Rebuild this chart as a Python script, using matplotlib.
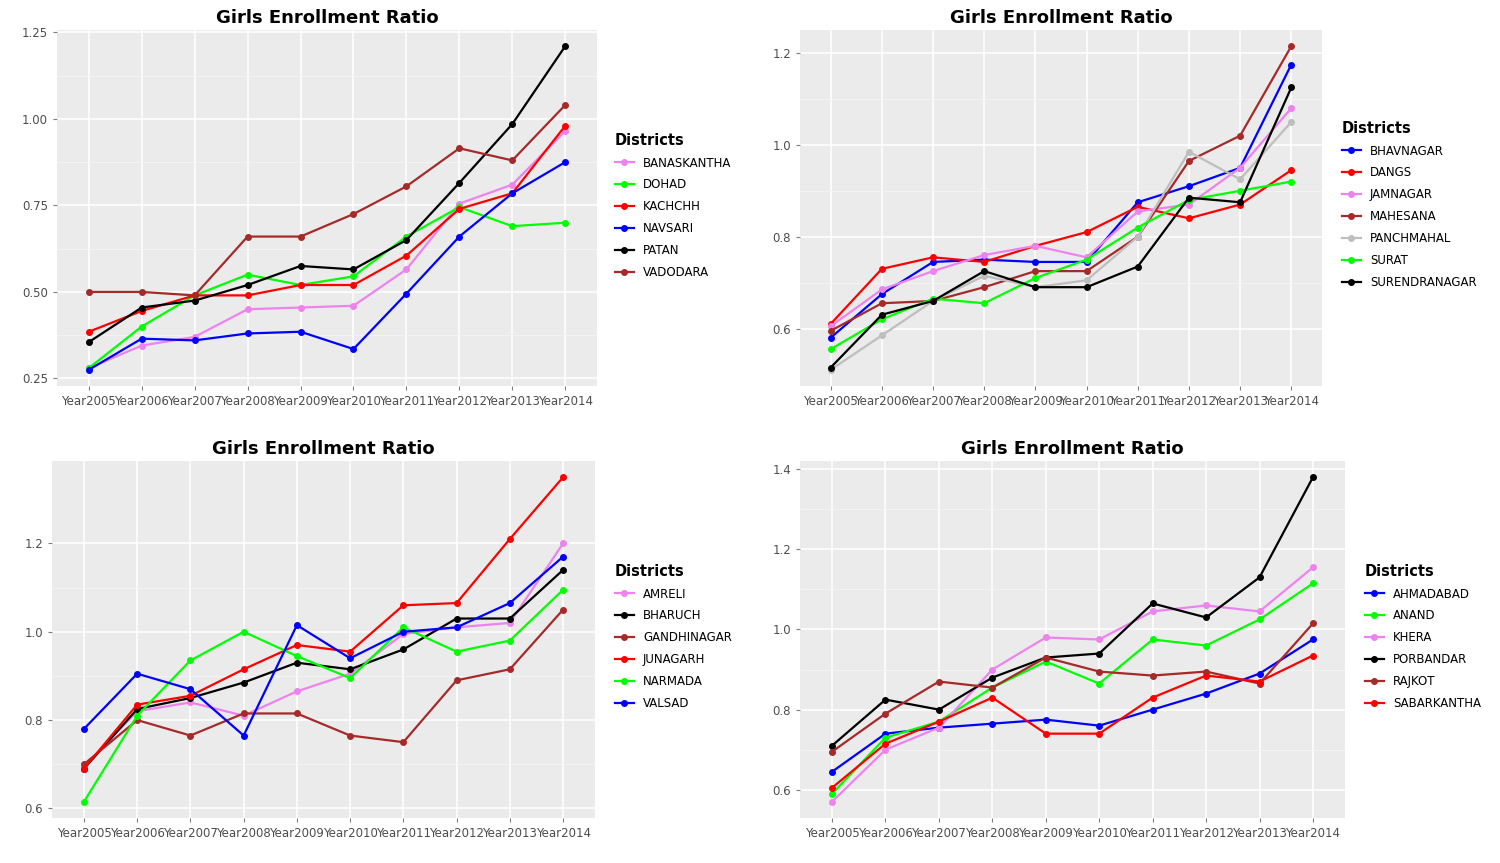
import matplotlib.pyplot as plt
import numpy as np

years = ["Year%d" % y for y in range(2005, 2015)]

tl_names = ["BANASKANTHA", "DOHAD", "KACHCHH", "NAVSARI", "PATAN", "VADODARA"]
tl_colors = ["violet", "#00FF00", "red", "blue", "black", "brown"]
tl_vals = [
    [0.28, 0.345, 0.37, 0.45, 0.455, 0.46, 0.565, 0.755, 0.81, 0.965],
    [0.28, 0.40, 0.49, 0.55, 0.52, 0.545, 0.66, 0.745, 0.69, 0.70],
    [0.385, 0.445, 0.49, 0.49, 0.52, 0.52, 0.605, 0.74, 0.785, 0.98],
    [0.275, 0.365, 0.36, 0.38, 0.385, 0.335, 0.495, 0.66, 0.785, 0.875],
    [0.355, 0.455, 0.475, 0.52, 0.575, 0.565, 0.65, 0.815, 0.985, 1.21],
    [0.50, 0.50, 0.49, 0.66, 0.66, 0.725, 0.805, 0.915, 0.88, 1.04],
]
tr_names = ["BHAVNAGAR", "DANGS", "JAMNAGAR", "MAHESANA", "PANCHMAHAL", "SURAT", "SURENDRANAGAR"]
tr_colors = ["blue", "red", "violet", "brown", "#BEBEBE", "#00FF00", "black"]
tr_vals = [
    [0.58, 0.675, 0.745, 0.75, 0.745, 0.745, 0.875, 0.91, 0.95, 1.175],
    [0.61, 0.73, 0.755, 0.745, 0.78, 0.81, 0.865, 0.84, 0.87, 0.945],
    [0.605, 0.685, 0.725, 0.76, 0.78, 0.755, 0.855, 0.87, 0.95, 1.08],
    [0.595, 0.655, 0.66, 0.69, 0.725, 0.725, 0.80, 0.965, 1.02, 1.215],
    [0.51, 0.585, 0.66, 0.715, 0.69, 0.705, 0.80, 0.985, 0.925, 1.05],
    [0.555, 0.62, 0.665, 0.655, 0.71, 0.75, 0.82, 0.88, 0.90, 0.92],
    [0.515, 0.63, 0.66, 0.725, 0.69, 0.69, 0.735, 0.885, 0.875, 1.125],
]
bl_names = ["AMRELI", "BHARUCH", "GANDHINAGAR", "JUNAGARH", "NARMADA", "VALSAD"]
bl_colors = ["violet", "black", "brown", "red", "#00FF00", "blue"]
bl_vals = [
    [0.695, 0.82, 0.84, 0.81, 0.865, 0.905, 0.995, 1.01, 1.02, 1.20],
    [0.69, 0.825, 0.85, 0.885, 0.93, 0.915, 0.96, 1.03, 1.03, 1.14],
    [0.70, 0.80, 0.765, 0.815, 0.815, 0.765, 0.75, 0.89, 0.915, 1.05],
    [0.69, 0.835, 0.855, 0.915, 0.97, 0.955, 1.06, 1.065, 1.21, 1.35],
    [0.615, 0.81, 0.935, 1.0, 0.945, 0.895, 1.01, 0.955, 0.98, 1.095],
    [0.78, 0.905, 0.87, 0.765, 1.015, 0.94, 1.0, 1.01, 1.065, 1.17],
]
br_names = ["AHMADABAD", "ANAND", "KHERA", "PORBANDAR", "RAJKOT", "SABARKANTHA"]
br_colors = ["blue", "#00FF00", "violet", "black", "brown", "red"]
br_vals = [
    [0.645, 0.74, 0.755, 0.765, 0.775, 0.76, 0.80, 0.84, 0.89, 0.975],
    [0.59, 0.73, 0.77, 0.855, 0.92, 0.865, 0.975, 0.96, 1.025, 1.115],
    [0.57, 0.70, 0.755, 0.90, 0.98, 0.975, 1.045, 1.06, 1.045, 1.155],
    [0.71, 0.825, 0.80, 0.88, 0.93, 0.94, 1.065, 1.03, 1.13, 1.38],
    [0.695, 0.79, 0.87, 0.855, 0.93, 0.895, 0.885, 0.895, 0.865, 1.015],
    [0.605, 0.715, 0.77, 0.83, 0.74, 0.74, 0.83, 0.885, 0.87, 0.935],
]

W, H = 1500, 863
fig = plt.figure(figsize=(15, 8.63), dpi=100)

panels = [
    ((57, 30, 597, 386), tl_names, tl_colors, tl_vals, np.arange(0.25, 1.26, 0.25), "%.2f", (630, 138)),
    ((800, 30, 1322, 386), tr_names, tr_colors, tr_vals, np.arange(0.6, 1.21, 0.2), "%.1f", (1357, 126)),
    ((52, 461, 595, 818), bl_names, bl_colors, bl_vals, np.arange(0.6, 1.21, 0.2), "%.1f", (630, 569)),
    ((800, 461, 1345, 818), br_names, br_colors, br_vals, np.arange(0.6, 1.41, 0.2), "%.1f", (1380, 569)),
]

for (x0, y0, x1, y1), names, colors, vals, yt, fmt, (lx, ly) in panels:
    ax = fig.add_axes([x0 / W, 1 - y1 / H, (x1 - x0) / W, (y1 - y0) / H])
    ax.set_facecolor("#EBEBEB")
    x = np.arange(len(years))
    for n, c, v in zip(names, colors, vals):
        ax.plot(x, v, color=c, lw=1.6, marker="o", ms=4, label=n)
    ax.set_xticks(x)
    ax.set_xticklabels(years)
    ax.set_xlim(-0.6, len(years) - 0.4)
    ax.set_yticks(yt)
    ax.set_yticklabels([fmt % t for t in yt])
    mids = (yt[:-1] + yt[1:]) / 2
    ax.set_yticks(mids, minor=True)
    ax.grid(True, which="major", color="white", lw=1.1)
    ax.grid(True, which="minor", axis="y", color="#F5F5F5", lw=0.6)
    ax.set_axisbelow(True)
    for s in ax.spines.values():
        s.set_visible(False)
    ax.tick_params(which="both", length=3, color="#7F7F7F", labelsize=8.5, labelcolor="#4D4D4D")
    ax.tick_params(which="minor", length=0)
    ax.set_title("Girls Enrollment Ratio", fontsize=13, fontweight="bold", pad=5)
    leg = ax.legend(loc="upper left", bbox_to_anchor=((lx - 20) / W, 1 - (ly - 10) / H),
                    bbox_transform=fig.transFigure, frameon=False, title="Districts",
                    fontsize=8.5, handlelength=1.6, labelspacing=0.75, borderaxespad=0)
    leg.get_title().set_fontweight("bold")
    leg.get_title().set_fontsize(10.5)
    leg._legend_box.align = "left"

fig.savefig("out.png", dpi=100)
